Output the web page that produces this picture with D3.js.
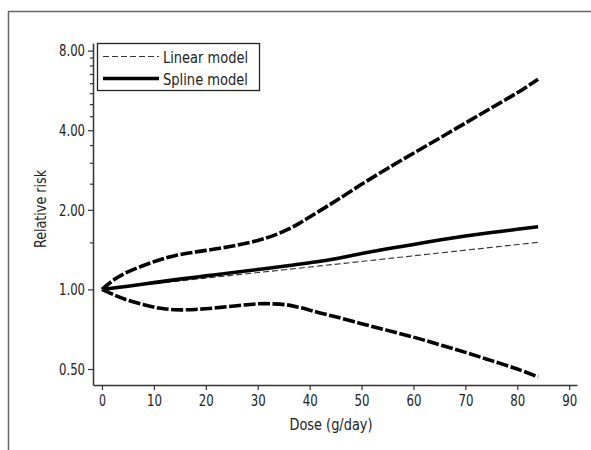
<!DOCTYPE html>
<html lang="en">
<head>
  <meta charset="utf-8">
  <title>Dose-response: relative risk</title>
  <style>
    * { margin: 0; padding: 0; }
    body { background: #fff; }
    svg { display: block; }
    text { font-family: "DejaVu Sans Condensed", "DejaVu Sans", sans-serif; fill: #222; }
  </style>
  <script src="https://cdn.jsdelivr.net/npm/d3@7"></script>
</head>
<body>
  <div id="chart"></div>
  <script>
    // values
    const splineDose  = [0, 5, 10, 15, 20, 25, 30, 35, 40, 45, 50, 55, 60, 65, 70, 75, 80, 84];
    const splineRR    = [1.0, 1.028, 1.061, 1.094, 1.125, 1.157, 1.189, 1.223, 1.261, 1.306, 1.366, 1.424, 1.479, 1.537, 1.591, 1.641, 1.688, 1.726];
    const ciDose      = [0, 2.5, 5, 8, 11, 14, 18, 22, 26, 30, 33, 36, 38, 40, 42, 45, 50, 55, 60, 65, 70, 75, 80, 84];
    const upperRR     = [1.0, 1.094, 1.165, 1.231, 1.292, 1.342, 1.385, 1.424, 1.469, 1.532, 1.597, 1.693, 1.778, 1.879, 1.986, 2.158, 2.497, 2.868, 3.272, 3.732, 4.257, 4.857, 5.541, 6.233];
    const lowerRR     = [1.0, 0.95, 0.91, 0.876, 0.85, 0.838, 0.84, 0.852, 0.868, 0.882, 0.882, 0.872, 0.855, 0.835, 0.815, 0.788, 0.742, 0.70, 0.66, 0.618, 0.578, 0.538, 0.50, 0.467];
    const linearDose  = [0, 20, 40, 60, 84];
    const linearRR    = [1.0, 1.103, 1.215, 1.34, 1.507];

    const xTicks      = [0, 10, 20, 30, 40, 50, 60, 70, 80, 90];
    const yTicks      = [0.5, 1, 2, 4, 8];
    const yMinorTicks = [1.5, 2.5, 3, 3.5, 4.5, 5, 5.5, 6, 6.5, 7, 7.5];
    const legendNames = ["Linear model", "Spline model"];

    const W = 591, H = 450;
    const fontSize = "16.5px";

    // the original uses a condensed face, so squeeze text to its width
    function squeeze(sel, width) {
      sel.attr("textLength", width).attr("lengthAdjust", "spacingAndGlyphs");
    }

    const svg = d3.select("#chart").append("svg")
                  .attr("width", W)
                  .attr("height", H);

    // outer frame (only top and left edges show)
    svg.append("path")
       .attr("d", "M8.5,450 L8.5,11.5 L591,11.5")
       .attr("fill", "none")
       .attr("stroke", "#666")
       .attr("stroke-width", 1.5);

    const x = d3.scaleLinear().domain([-1.73, 91.5]).range([93, 577]);
    const y = d3.scaleLog().domain([0.435, 8.55]).range([385, 43]);

    const axisColor = "#333";

    // x axis
    const gx = svg.append("g")
                  .attr("transform", "translate(0,385)")
                  .call(d3.axisBottom(x).tickValues(xTicks).tickSize(5).tickSizeOuter(0).tickPadding(4));
    gx.select(".domain").attr("stroke", axisColor).attr("stroke-width", 1.5);
    gx.selectAll(".tick line").attr("stroke", axisColor).attr("stroke-width", 1.2);
    gx.selectAll(".tick text")
      .style("font-size", fontSize)
      .style("font-family", null)
      .attr("fill", "#222")
      .attr("textLength", d => d < 10 ? 7 : 15)
      .attr("lengthAdjust", "spacingAndGlyphs");

    // y axis
    const gy = svg.append("g")
                  .attr("transform", "translate(93,0)")
                  .call(d3.axisLeft(y).tickValues(yTicks).tickFormat(d3.format(".2f")).tickSize(5).tickSizeOuter(0).tickPadding(3));
    gy.select(".domain").attr("stroke", axisColor).attr("stroke-width", 1.5);
    gy.selectAll(".tick line").attr("stroke", axisColor).attr("stroke-width", 1.2);
    gy.selectAll(".tick text")
      .style("font-size", fontSize)
      .style("font-family", null)
      .attr("fill", "#222")
      .call(squeeze, 26);

    svg.append("g").selectAll("line")
       .data(yMinorTicks)
       .enter().append("line")
       .attr("x1", 90).attr("x2", 93)
       .attr("y1", d => y(d)).attr("y2", d => y(d))
       .attr("stroke", axisColor)
       .attr("stroke-width", 1.2);

    // axis titles
    svg.append("text")
       .attr("x", 331).attr("y", 430)
       .attr("text-anchor", "middle")
       .style("font-size", fontSize)
       .text("Dose (g/day)")
       .call(squeeze, 83);

    svg.append("text")
       .attr("transform", "translate(46,209) rotate(-90)")
       .attr("text-anchor", "middle")
       .style("font-size", fontSize)
       .text("Relative risk")
       .call(squeeze, 78);

    // curves
    const line = d3.line()
                   .x(d => x(d[0]))
                   .y(d => y(d[1]))
                   .curve(d3.curveCatmullRom.alpha(0.5));

    const plot = svg.append("g");

    plot.append("path")
        .datum(linearDose.map((d, i) => [d, linearRR[i]]))
        .attr("d", line)
        .attr("fill", "none")
        .attr("stroke", "#333")
        .attr("stroke-width", 1.1)
        .attr("stroke-dasharray", "6,3");

    [upperRR, lowerRR].forEach(arr => {
      plot.append("path")
          .datum(ciDose.map((d, i) => [d, arr[i]]))
          .attr("d", line)
          .attr("fill", "none")
          .attr("stroke", "#000")
          .attr("stroke-width", 3.6)
          .attr("stroke-dasharray", "12,2.5");
    });

    plot.append("path")
        .datum(splineDose.map((d, i) => [d, splineRR[i]]))
        .attr("d", line)
        .attr("fill", "none")
        .attr("stroke", "#000")
        .attr("stroke-width", 3.6);

    // legend
    const lg = svg.append("g");
    lg.append("rect")
      .attr("x", 97.5).attr("y", 43.5)
      .attr("width", 162).attr("height", 47)
      .attr("fill", "#fff")
      .attr("stroke", "#222")
      .attr("stroke-width", 1.3);

    const legendRows = lg.selectAll(".row")
                         .data(legendNames)
                         .enter().append("g")
                         .attr("class", "row")
                         .attr("transform", (d, i) => "translate(0," + (56.5 + i * 22) + ")");

    legendRows.append("line")
              .attr("x1", 103).attr("x2", 159)
              .attr("y1", 0).attr("y2", 0)
              .attr("stroke", (d, i) => i === 0 ? "#333" : "#000")
              .attr("stroke-width", (d, i) => i === 0 ? 1.1 : 3.6)
              .attr("stroke-dasharray", (d, i) => i === 0 ? "6,3" : null);

    legendRows.append("text")
              .attr("x", 163).attr("y", 6)
              .style("font-size", fontSize)
              .text(d => d)
              .call(squeeze, 85);
  </script>
</body>
</html>
